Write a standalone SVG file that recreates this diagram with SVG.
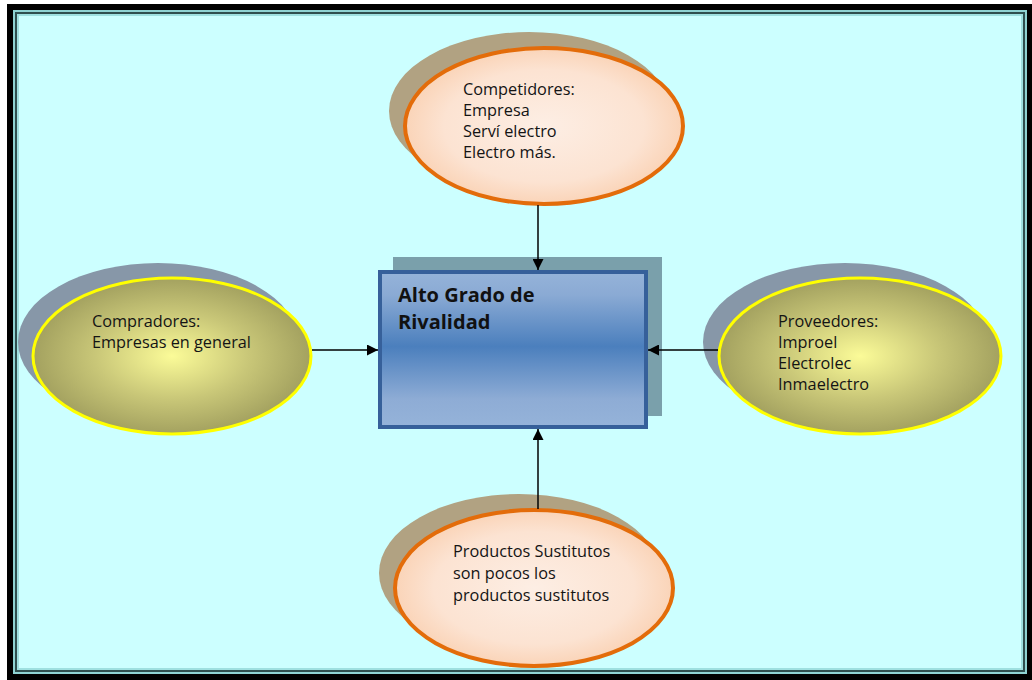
<svg xmlns="http://www.w3.org/2000/svg" width="1032" height="680" viewBox="0 0 1032 680">
<defs>
<style>
.t{font-family:"Open Sans","Noto Sans",sans-serif;font-size:16.3px;fill:#141414}
.b{font-family:"Open Sans","Noto Sans",sans-serif;font-size:20px;font-weight:bold;fill:#111}
.conn{stroke:#000;stroke-width:1.5;fill:none}
</style>
<radialGradient id="gOr" cx="0.5" cy="0.5" r="0.6">
<stop offset="0" stop-color="#fdeee4"/><stop offset="0.6" stop-color="#fce3d2"/><stop offset="1" stop-color="#f9c9a5"/>
</radialGradient>
<radialGradient id="gYe" cx="0.5" cy="0.5" r="0.55">
<stop offset="0" stop-color="#fbfb98"/><stop offset="0.5" stop-color="#c9c778"/><stop offset="1" stop-color="#9b995a"/>
</radialGradient>
<linearGradient id="gBl" x1="0" y1="0" x2="0" y2="1">
<stop offset="0" stop-color="#95b3d9"/><stop offset="0.15" stop-color="#8aaad4"/><stop offset="0.48" stop-color="#4b7fbd"/><stop offset="0.82" stop-color="#8eacd5"/><stop offset="1" stop-color="#95b3d9"/>
</linearGradient>
<marker id="ah" viewBox="0 0 10 10" refX="10" refY="5" markerWidth="11" markerHeight="11" orient="auto" markerUnits="userSpaceOnUse">
<path d="M0,0 L10,5 L0,10 z" fill="#000"/>
</marker>
</defs>
<rect x="0" y="0" width="1032" height="680" fill="#ffffff"/>
<rect x="7" y="4" width="1025" height="676" fill="#000"/>
<rect x="13" y="10" width="1014" height="664" fill="#8fd3d3"/>
<rect x="15" y="12" width="1010" height="660" fill="#2f4f4f"/>
<rect x="17" y="14" width="1006" height="656" fill="#9ee0e0"/>
<rect x="19" y="16" width="1002" height="652" fill="#ccffff"/>

<g id="node-center">
<rect x="393" y="257" width="269" height="159" fill="#7aa0ab"/>
<rect x="380" y="272" width="266" height="155" fill="url(#gBl)" stroke="#36609a" stroke-width="4"/>
<text class="b" x="398" y="302">Alto Grado de</text>
<text class="b" x="398" y="329">Rivalidad</text>
</g>

<g id="node-competidores">
<ellipse cx="529" cy="111" rx="140" ry="79" fill="#b1a282"/>
<ellipse cx="544" cy="126" rx="139" ry="78" fill="url(#gOr)" stroke="#e36c0a" stroke-width="4"/>
<text class="t" x="463" y="95">Competidores:</text>
<text class="t" x="463" y="116">Empresa</text>
<text class="t" x="463" y="137">Serví electro</text>
<text class="t" x="463" y="158">Electro más.</text>
</g>

<g id="node-compradores">
<ellipse cx="158" cy="342" rx="140" ry="79" fill="#8797a8"/>
<ellipse cx="172" cy="356" rx="139" ry="78" fill="url(#gYe)" stroke="#ffff00" stroke-width="3"/>
<text class="t" x="92" y="327">Compradores:</text>
<text class="t" x="92" y="348">Empresas en general</text>
</g>

<g id="node-proveedores">
<ellipse cx="845" cy="342" rx="142" ry="79" fill="#8797a8"/>
<ellipse cx="860" cy="356" rx="141" ry="78" fill="url(#gYe)" stroke="#ffff00" stroke-width="3"/>
<text class="t" x="778" y="327">Proveedores:</text>
<text class="t" x="778" y="348">Improel</text>
<text class="t" x="778" y="369">Electrolec</text>
<text class="t" x="778" y="390">Inmaelectro</text>
</g>

<g id="node-sustitutos">
<ellipse cx="519" cy="573" rx="140" ry="79" fill="#b1a282"/>
<ellipse cx="534" cy="588" rx="139" ry="78" fill="url(#gOr)" stroke="#e36c0a" stroke-width="4"/>
<text class="t" x="453" y="557">Productos Sustitutos</text>
<text class="t" x="453" y="579">son pocos los</text>
<text class="t" x="453" y="601">productos sustitutos</text>
</g>

<g id="connectors">
<line class="conn" x1="538" y1="205" x2="538" y2="270" marker-end="url(#ah)"/>
<line class="conn" x1="538" y1="509" x2="538" y2="429" marker-end="url(#ah)"/>
<line class="conn" x1="312" y1="350" x2="378" y2="350" marker-end="url(#ah)"/>
<line class="conn" x1="718" y1="350" x2="648" y2="350" marker-end="url(#ah)"/>
</g>
</svg>
